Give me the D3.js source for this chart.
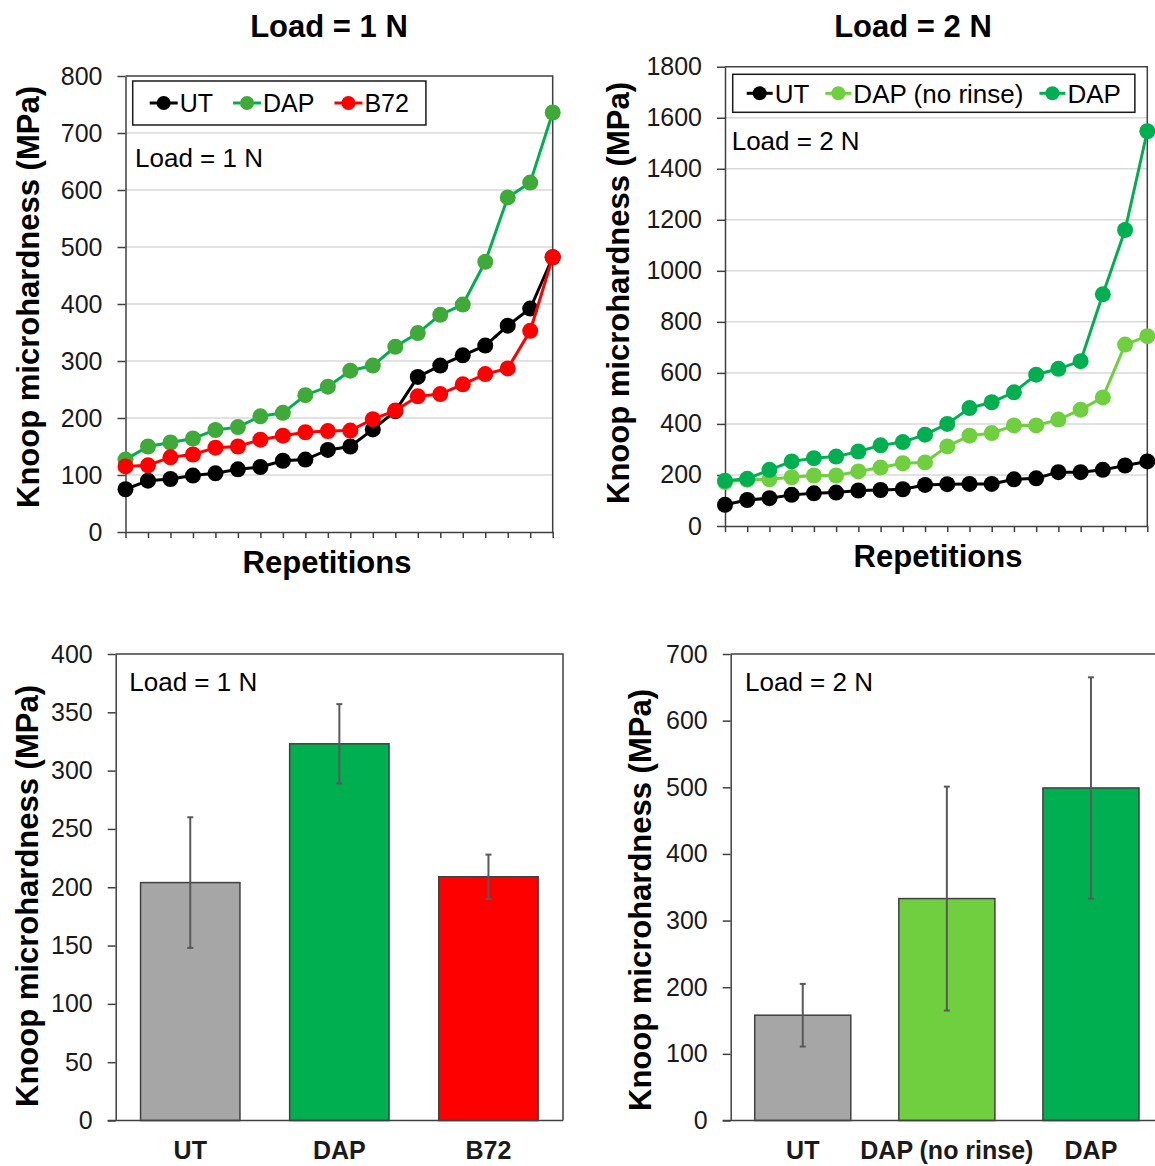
<!DOCTYPE html>
<html>
<head>
<meta charset="utf-8">
<script src="https://cdn.jsdelivr.net/npm/d3@7/dist/d3.min.js"></script>
<style>
  body { margin: 0; background: #fff; }
  text { font-family: Arial, "Liberation Sans", sans-serif; }
</style>
</head>
<body>
<svg width="1155" height="1166"></svg>
<script>
// repetitions, sorted ascending per series
var reps = [1, 2, 3, 4, 5, 6, 7, 8, 9, 10, 11, 12, 13, 14, 15, 16, 17, 18, 19, 20];

// Load = 1 N
var utLoad1  = [75, 90, 93, 99, 103, 110, 114, 125, 127, 144, 150, 180, 212, 272, 292, 310, 327, 362, 392, 482];
var dapLoad1 = [127, 150, 157, 164, 179, 184, 203, 209, 240, 255, 283, 292, 325, 349, 381, 399, 474, 587, 613, 736];
var b72Load1 = [115, 117, 131, 136, 148, 150, 162, 169, 175, 177, 178, 198, 213, 238, 242, 259, 277, 287, 353, 482];

// Load = 2 N
var utLoad2         = [83, 102, 109, 122, 128, 131, 139, 141, 144, 161, 164, 165, 165, 183, 187, 211, 211, 220, 237, 253];
var dapNoRinseLoad2 = [172, 181, 183, 191, 198, 198, 214, 229, 246, 249, 312, 354, 364, 394, 394, 417, 456, 504, 711, 744];
var dapLoad2        = [177, 185, 220, 253, 266, 272, 292, 316, 329, 358, 400, 462, 485, 524, 593, 616, 646, 908, 1160, 1547];

// mean +/- sd
var barCats1  = ["UT", "DAP", "B72"];
var barMeans1 = [204, 323, 209];
var barErr1   = [56, 34, 19];

var barCats2  = ["UT", "DAP (no rinse)", "DAP"];
var barMeans2 = [158, 333, 499];
var barErr2   = [47, 168, 166];

var yTicks1    = [0, 100, 200, 300, 400, 500, 600, 700, 800];
var yTicks2    = [0, 200, 400, 600, 800, 1000, 1200, 1400, 1600, 1800];
var yTicksBar1 = [0, 50, 100, 150, 200, 250, 300, 350, 400];
var yTicksBar2 = [0, 100, 200, 300, 400, 500, 600, 700];

var axisColor = "#404040",
    gridColor = "#d9d9d9",
    yTitle = "Knoop microhardness (MPa)";

var svg = d3.select("svg");

function yAxis(g, y, ticks, left) {
  var ax = g.append("g")
      .attr("transform", "translate(" + left + ",0)")
      .call(d3.axisLeft(y).tickValues(ticks).tickFormat(d3.format("d"))
        .tickSize(8).tickSizeOuter(0).tickPadding(15));
  ax.select(".domain").attr("stroke", axisColor).attr("stroke-width", 1.5);
  ax.selectAll(".tick line").attr("stroke", axisColor).attr("stroke-width", 1.5);
  ax.selectAll(".tick text")
      .attr("fill", "#1a1a1a")
      .style("font-size", "25px")
      .style("font-family", "Arial, 'Liberation Sans', sans-serif");
  return ax;
}

function frame(g, p) {
  g.append("path")
      .attr("d", "M" + p.left + "," + p.top + "H" + p.right + "V" + p.bottom)
      .attr("fill", "none")
      .attr("stroke", axisColor)
      .attr("stroke-width", 1.5);
}

function rotTitle(g, x, y) {
  g.append("text")
      .attr("transform", "translate(" + x + "," + y + ") rotate(-90)")
      .attr("text-anchor", "middle")
      .attr("dominant-baseline", "central")
      .style("font-size", "31px")
      .style("font-weight", "bold")
      .text(yTitle);
}

function legend(g, items, o) {
  var lg = g.append("g");
  var box = lg.append("rect")
      .attr("x", o.x).attr("y", o.y)
      .attr("height", o.h)
      .attr("fill", "#fff")
      .attr("stroke", "#1a1a1a")
      .attr("stroke-width", 1.5);
  var cy = o.y + o.h / 2,
      cx = o.x + o.pad;
  items.forEach(function(it) {
    lg.append("line")
        .attr("x1", cx).attr("x2", cx + o.seg)
        .attr("y1", cy).attr("y2", cy)
        .attr("stroke", it.line).attr("stroke-width", 3);
    lg.append("circle")
        .attr("cx", cx + o.seg / 2).attr("cy", cy).attr("r", 7)
        .attr("fill", it.fill);
    var t = lg.append("text")
        .attr("x", cx + o.seg + 2)
        .attr("y", cy)
        .attr("dy", "0.36em")
        .style("font-size", o.fs + "px")
        .text(it.name);
    cx += o.seg + 2 + t.node().getComputedTextLength() + o.gap;
  });
  box.attr("width", cx - o.gap + o.pad - o.x);
}

function linePanel(p) {
  var g = svg.append("g");
  var x = d3.scalePoint().domain(reps).range([p.left, p.right]),
      y = d3.scaleLinear().domain([0, p.ticks[p.ticks.length - 1]]).range([p.bottom, p.top]);

  g.append("g").selectAll("line")
    .data(p.ticks.slice(1, -1))
    .enter().append("line")
      .attr("x1", p.left).attr("x2", p.right)
      .attr("y1", function(d) { return y(d); })
      .attr("y2", function(d) { return y(d); })
      .attr("stroke", gridColor)
      .attr("stroke-width", 1.5);

  frame(g, p);
  yAxis(g, y, p.ticks, p.left);

  var xa = g.append("g")
      .attr("transform", "translate(0," + p.bottom + ")")
      .call(d3.axisBottom(x).tickSize(6).tickSizeOuter(0).tickFormat(""));
  xa.select(".domain").attr("stroke", axisColor).attr("stroke-width", 1.5);
  xa.selectAll(".tick line").attr("stroke", axisColor).attr("stroke-width", 1.5);

  var line = d3.line()
      .x(function(d, i) { return x(reps[i]); })
      .y(function(d) { return y(d); });

  p.series.forEach(function(s) {
    g.append("path")
        .attr("d", line(s.values))
        .attr("fill", "none")
        .attr("stroke", s.line)
        .attr("stroke-width", 3);
    g.append("g").selectAll("circle")
      .data(s.values)
      .enter().append("circle")
        .attr("cx", function(d, i) { return x(reps[i]); })
        .attr("cy", function(d) { return y(d); })
        .attr("r", 8)
        .attr("fill", s.fill);
  });

  legend(g, p.series, p.legend);

  g.append("text")
      .attr("x", p.noteX).attr("y", p.noteY)
      .style("font-size", "26px")
      .text(p.note);

  g.append("text")
      .attr("x", p.titleX).attr("y", 37)
      .attr("text-anchor", "middle")
      .style("font-size", "31px")
      .style("font-weight", "bold")
      .text(p.note);

  g.append("text")
      .attr("x", p.xTitleX).attr("y", p.bottom + 41)
      .attr("text-anchor", "middle")
      .style("font-size", "31px")
      .style("font-weight", "bold")
      .text("Repetitions");

  rotTitle(g, p.yTitleX, p.yTitleY);
}

function barPanel(p) {
  var g = svg.append("g");
  var x = d3.scaleBand().domain(p.cats).range([p.left, p.right]).paddingInner(1 / 3).paddingOuter(1 / 6),
      y = d3.scaleLinear().domain([0, p.ticks[p.ticks.length - 1]]).range([p.bottom, p.top]);

  frame(g, p);

  g.append("g").selectAll("rect")
    .data(p.cats)
    .enter().append("rect")
      .attr("x", function(d) { return x(d); })
      .attr("width", x.bandwidth())
      .attr("y", function(d, i) { return y(p.means[i]); })
      .attr("height", function(d, i) { return p.bottom - y(p.means[i]); })
      .attr("fill", function(d, i) { return p.colors[i]; })
      .attr("stroke", axisColor)
      .attr("stroke-width", 1.5);

  var err = g.append("g").selectAll("g")
    .data(p.cats)
    .enter().append("g")
      .attr("stroke", "#595959")
      .attr("stroke-width", 2);
  err.append("line")
      .attr("x1", function(d) { return x(d) + x.bandwidth() / 2; })
      .attr("x2", function(d) { return x(d) + x.bandwidth() / 2; })
      .attr("y1", function(d, i) { return y(p.means[i] - p.errs[i]); })
      .attr("y2", function(d, i) { return y(p.means[i] + p.errs[i]); });
  [-1, 1].forEach(function(sgn) {
    err.append("line")
        .attr("x1", function(d) { return x(d) + x.bandwidth() / 2 - 3; })
        .attr("x2", function(d) { return x(d) + x.bandwidth() / 2 + 3; })
        .attr("y1", function(d, i) { return y(p.means[i] + sgn * p.errs[i]); })
        .attr("y2", function(d, i) { return y(p.means[i] + sgn * p.errs[i]); });
  });

  yAxis(g, y, p.ticks, p.left);

  var xa = g.append("g")
      .attr("transform", "translate(0," + p.bottom + ")")
      .call(d3.axisBottom(x).tickSize(0).tickPadding(21));
  xa.select(".domain").remove();
  xa.selectAll(".tick text")
      .attr("fill", "#1a1a1a")
      .style("font-size", "25px")
      .style("font-weight", "bold")
      .style("font-family", "Arial, 'Liberation Sans', sans-serif");
  g.append("line")
      .attr("x1", p.left - 8).attr("x2", p.right)
      .attr("y1", p.bottom).attr("y2", p.bottom)
      .attr("stroke", axisColor)
      .attr("stroke-width", 1.5);

  g.append("text")
      .attr("x", p.noteX).attr("y", 691)
      .style("font-size", "26px")
      .text(p.note);

  rotTitle(g, p.yTitleX, p.yTitleY);
}

linePanel({
  left: 125.5, right: 552.7, top: 76, bottom: 532,
  ticks: yTicks1,
  note: "Load = 1 N", noteX: 135, noteY: 167, titleX: 329, xTitleX: 327,
  yTitleX: 28, yTitleY: 297,
  legend: { x: 132.7, y: 81, h: 44, pad: 17, seg: 28, gap: 20, fs: 25 },
  series: [
    { name: "UT",  values: utLoad1,  line: "#000000", fill: "#000000" },
    { name: "DAP", values: dapLoad1, line: "#00b050", fill: "#3faa3a" },
    { name: "B72", values: b72Load1, line: "#ff0000", fill: "#ff0000" }
  ]
});

linePanel({
  left: 725, right: 1147.3, top: 66.7, bottom: 526,
  ticks: yTicks2,
  note: "Load = 2 N", noteX: 731.7, noteY: 150, titleX: 913, xTitleX: 938,
  yTitleX: 618, yTitleY: 293,
  legend: { x: 732.7, y: 74.3, h: 38, pad: 14, seg: 26, gap: 16, fs: 26 },
  series: [
    { name: "UT",             values: utLoad2,         line: "#000000", fill: "#000000" },
    { name: "DAP (no rinse)", values: dapNoRinseLoad2, line: "#6fcf3f", fill: "#6fcf3f" },
    { name: "DAP",            values: dapLoad2,        line: "#00b050", fill: "#00b050" }
  ]
});

barPanel({
  left: 115.7, right: 563, top: 654, bottom: 1120.5,
  ticks: yTicksBar1,
  cats: barCats1, means: barMeans1, errs: barErr1,
  colors: ["#a6a6a6", "#00b050", "#ff0000"],
  note: "Load = 1 N", noteX: 129.3,
  yTitleX: 27, yTitleY: 896
});

barPanel({
  left: 730.7, right: 1163, top: 654, bottom: 1120.5,
  ticks: yTicksBar2,
  cats: barCats2, means: barMeans2, errs: barErr2,
  colors: ["#a6a6a6", "#6fcf3f", "#00b050"],
  note: "Load = 2 N", noteX: 745,
  yTitleX: 640, yTitleY: 900
});
</script>
</body>
</html>
